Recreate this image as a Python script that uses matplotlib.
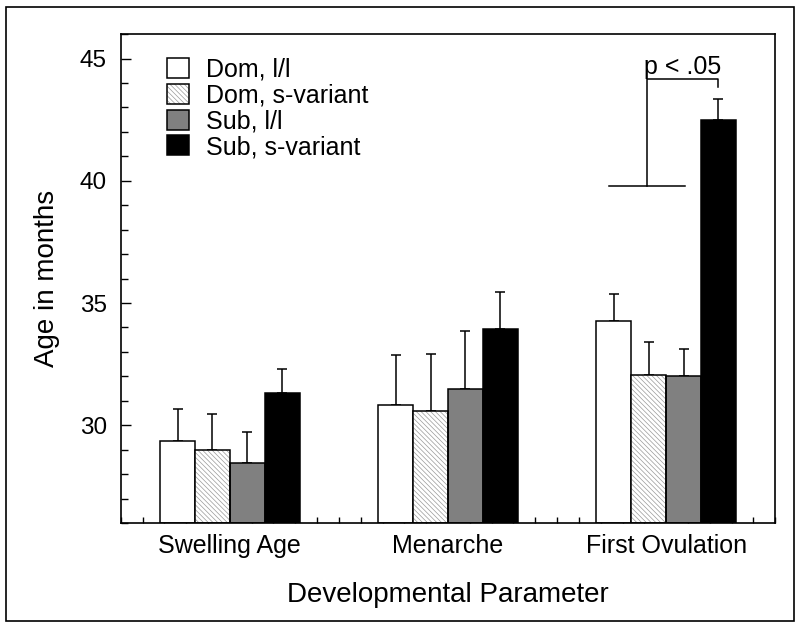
import matplotlib
matplotlib.use("Agg")
import matplotlib.pyplot as plt
import numpy as np
from matplotlib.patches import Patch, Rectangle
from matplotlib.ticker import MultipleLocator

plt.rcParams['font.family'] = ['Liberation Sans', 'DejaVu Sans']
plt.rcParams['hatch.linewidth'] = 0.5

# data
categories = ["Swelling Age", "Menarche", "First Ovulation"]
groups = ["Dom, l/l", "Dom, s-variant", "Sub, l/l", "Sub, s-variant"]
means = {
    "Dom, l/l":       [29.36, 30.82, 34.25],
    "Dom, s-variant": [28.97, 30.59, 32.07],
    "Sub, l/l":       [28.45, 31.50, 32.02],
    "Sub, s-variant": [31.32, 33.95, 42.50],
}
err_top = {
    "Dom, l/l":       [30.65, 32.88, 35.38],
    "Dom, s-variant": [30.48, 32.92, 33.40],
    "Sub, l/l":       [29.73, 33.84, 33.14],
    "Sub, s-variant": [32.30, 35.45, 43.36],
}
faces = ["white", "white", "#808080", "black"]
hatches = [None, "\\\\\\\\\\\\\\", None, None]

# significance bracket (First Ovulation)
sig_low_y = 39.8
sig_high_y = 44.15
sig_text = "p < .05"

fig = plt.figure(figsize=(8, 6.31), dpi=100)
ax = fig.add_axes([0.151, 0.171, 0.818, 0.775])

x = np.arange(1, len(categories) + 1)
w = 0.16
offsets = (np.arange(len(groups)) - 1.5) * w

handles = []
for i, g in enumerate(groups):
    xs = x + offsets[i]
    m = np.array(means[g])
    e = np.array(err_top[g]) - m
    ax.errorbar(xs, m, yerr=[np.zeros_like(e), e], fmt='none', ecolor='black',
                elinewidth=1.1, capsize=3.5, capthick=1.1, zorder=1)
    if hatches[i]:
        ax.bar(xs, m - 26, bottom=26, width=w, color='white', edgecolor='#999999',
               hatch=hatches[i], linewidth=0, zorder=2)
        ax.bar(xs, m - 26, bottom=26, width=w, fill=False, edgecolor='black',
               linewidth=1.1, zorder=3)
        h = (Patch(facecolor='white', edgecolor='#999999', hatch=hatches[i], linewidth=0),
             Patch(fill=False, edgecolor='black', linewidth=1.1))
    else:
        ax.bar(xs, m - 26, bottom=26, width=w, color=faces[i], edgecolor='black',
               linewidth=1.1, zorder=2)
        h = Patch(facecolor=faces[i], edgecolor='black', linewidth=1.1)
    handles.append(h)

# bracket
xo = x[2]
x_left_a, x_left_b = xo - 0.26, xo + 0.085
x_mid = xo - 0.09
x_right = xo + offsets[3]
ax.plot([x_left_a, x_left_b], [sig_low_y, sig_low_y], color='black', lw=1.1)
ax.plot([x_mid, x_mid, x_right, x_right],
        [sig_low_y, sig_high_y, sig_high_y, sig_high_y - 0.32], color='black', lw=1.1)
ax.text((x_mid + x_right) / 2, sig_high_y + 0.2, sig_text, ha='center', va='baseline',
        fontsize=18)

ax.set_xlim(0.5, 3.5)
ax.set_ylim(26, 46)
ax.set_xticks(x)
ax.set_xticklabels(categories, fontsize=18)
ax.xaxis.set_minor_locator(MultipleLocator(0.1))
ax.set_yticks([30, 35, 40, 45])
ax.yaxis.set_minor_locator(MultipleLocator(1))
ax.tick_params(axis='x', which='major', length=0, pad=8)
ax.tick_params(axis='x', which='minor', direction='in', length=4, width=1)
ax.tick_params(axis='y', which='major', direction='in', length=7, width=1, pad=10,
               labelsize=17.5)
ax.tick_params(axis='y', which='minor', direction='in', length=5, width=1)
for s in ax.spines.values():
    s.set_linewidth(1.2)

ax.set_xlabel("Developmental Parameter", fontsize=20, labelpad=17)
ax.set_ylabel("Age in months", fontsize=20, labelpad=14)

ax.legend(handles, groups, loc='upper left', bbox_to_anchor=(0.052, 0.977),
          frameon=False, fontsize=18, handlelength=0.85, handleheight=0.85,
          handletextpad=0.7, labelspacing=0.07, borderpad=0)

fig.add_artist(Rectangle((0.008, 0.016), 0.984, 0.973, transform=fig.transFigure,
                         fill=False, edgecolor='black', linewidth=1.2))

fig.savefig("out.png", dpi=100)
